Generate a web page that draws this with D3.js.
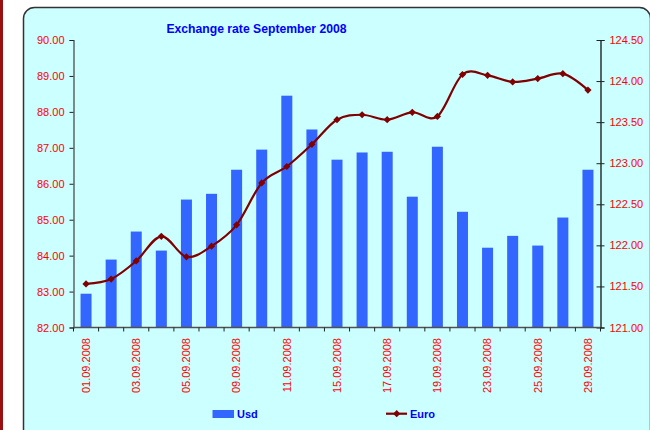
<!DOCTYPE html>
<html>
<head>
<meta charset="utf-8">
<script src="https://cdn.jsdelivr.net/npm/d3@7"></script>
<style>
  html, body { margin: 0; padding: 0; background: #fff; }
  svg { display: block; font-family: "Liberation Sans", Arial, sans-serif; }
</style>
</head>
<body>
<div id="container"></div>
<script>
const dates = [
  "01.09.2008", "02.09.2008", "03.09.2008", "04.09.2008", "05.09.2008",
  "06.09.2008", "09.09.2008", "10.09.2008", "11.09.2008", "12.09.2008",
  "15.09.2008", "16.09.2008", "17.09.2008", "18.09.2008", "19.09.2008",
  "20.09.2008", "23.09.2008", "24.09.2008", "25.09.2008", "26.09.2008",
  "29.09.2008"
]

const usd = [
  82.94, 83.89, 84.67, 84.14, 85.56, 85.72, 86.39, 86.95, 88.45, 87.51,
  86.67, 86.87, 86.89, 85.64, 87.03, 85.22, 84.22, 84.55, 84.28, 85.06,
  86.39
]

const euro = [
  121.53, 121.59, 121.81, 122.11, 121.86, 121.99, 122.25, 122.76, 122.96, 123.23,
  123.53, 123.59, 123.53, 123.62, 123.57, 124.08, 124.07, 123.99, 124.03, 124.09,
  123.89
]

const usdTicks = [82, 83, 84, 85, 86, 87, 88, 89, 90]
const euroTicks = [121, 121.5, 122, 122.5, 123, 123.5, 124, 124.5]

const width = 650
const height = 430
const margins = { top: 40, bottom: 102.5, left: 73.5, right: 49.5 }

const red = "#ff0000"
const blue = "#0000ff"
const barColor = "#3366ff"
const lineColor = "#800000"

const xScale = d3.scaleBand(dates, [margins.left, width - margins.right])
const yLeft = d3.scaleLinear([82, 90], [height - margins.bottom, margins.top])
const yRight = d3.scaleLinear([121, 124.5], [height - margins.bottom, margins.top])
const fmt = d3.format(".2f")

const svg = d3.select('#container')
  .append('svg')
  .attr('width', width)
  .attr('height', height)
  .attr('viewBox', [0, 0, width, height])

// page frame
svg.append('rect')
  .attr('x', 0).attr('y', 0).attr('width', 3).attr('height', height)
  .attr('fill', '#9a1010')

svg.append('rect')
  .attr('x', 23.5).attr('y', 7.5)
  .attr('width', 627).attr('height', 440)
  .attr('rx', 11)
  .attr('fill', '#ccffff')
  .attr('stroke', '#333')
  .attr('stroke-width', 1.5)

// title
svg.append('text')
  .attr('x', 256.5)
  .attr('y', 33)
  .attr('text-anchor', 'middle')
  .attr('font-size', 12.2)
  .attr('font-weight', 'bold')
  .attr('fill', blue)
  .text('Exchange rate September 2008')

// bars
const barW = 11
svg.append('g')
  .selectAll('rect')
  .data(dates)
  .join('rect')
  .attr('x', d => xScale(d) + xScale.bandwidth() / 2 - barW / 2)
  .attr('width', barW)
  .attr('y', (d, i) => yLeft(usd[i]))
  .attr('height', (d, i) => yLeft(82) - yLeft(usd[i]))
  .attr('fill', barColor)

// left axis
svg.append('g')
  .attr('transform', `translate(${margins.left},0)`)
  .call(d3.axisLeft(yLeft).tickValues(usdTicks).tickFormat(fmt).tickSize(4).tickPadding(5))
  .call(g => g.select('.domain').attr('stroke', '#404040').attr('stroke-width', 1.2))
  .call(g => g.selectAll('.tick line').attr('stroke', '#222'))
  .call(g => g.selectAll('.tick text').attr('fill', red).attr('font-size', 11).attr('font-family', null))

// right axis
svg.append('g')
  .attr('transform', `translate(${width - margins.right},0)`)
  .call(d3.axisRight(yRight).tickValues(euroTicks).tickFormat(fmt).tickSize(4).tickPadding(5))
  .call(g => g.select('.domain').attr('stroke', '#000').attr('stroke-width', 1.2))
  .call(g => g.selectAll('.tick line').attr('x1', -4).attr('stroke', '#222'))
  .call(g => g.selectAll('.tick text').attr('fill', red).attr('font-size', 11).attr('font-family', null))

// bottom axis: ticks on category boundaries, labels on every other date
const xAxisG = svg.append('g')
  .attr('transform', `translate(0,${height - margins.bottom})`)

xAxisG.append('line')
  .attr('x1', margins.left).attr('x2', width - margins.right)
  .attr('stroke', '#505050').attr('stroke-width', 1.5)

xAxisG.selectAll('line.tk')
  .data(dates.concat(['end']))
  .join('line')
  .attr('class', 'tk')
  .attr('x1', (d, i) => i < dates.length ? xScale(d) : width - margins.right)
  .attr('x2', (d, i) => i < dates.length ? xScale(d) : width - margins.right)
  .attr('y1', 0).attr('y2', 4)
  .attr('stroke', '#222')

xAxisG.selectAll('text')
  .data(dates.filter((d, i) => i % 2 === 0))
  .join('text')
  .attr('transform', d => `translate(${xScale(d) + xScale.bandwidth() / 2},10.5) rotate(-90)`)
  .attr('dy', '0.35em')
  .attr('text-anchor', 'end')
  .attr('font-size', 11)
  .attr('fill', red)
  .text(d => d)

// euro line
const line = d3.line()
  .x((d, i) => xScale(dates[i]) + xScale.bandwidth() / 2)
  .y(d => yRight(d))
  .curve(d3.curveCardinal.tension(0))

svg.append('path')
  .datum(euro)
  .attr('d', line)
  .attr('fill', 'none')
  .attr('stroke', lineColor)
  .attr('stroke-width', 2.2)

const diamond = d3.symbol(d3.symbolSquare, 26)

svg.append('g')
  .selectAll('path')
  .data(euro)
  .join('path')
  .attr('transform', (d, i) => `translate(${xScale(dates[i]) + xScale.bandwidth() / 2},${yRight(d)}) rotate(45)`)
  .attr('d', diamond)
  .attr('fill', lineColor)

// legend
const legend = svg.append('g')
legend.append('rect')
  .attr('x', 212.5).attr('y', 410).attr('width', 21.5).attr('height', 8)
  .attr('fill', barColor)
legend.append('text')
  .attr('x', 237).attr('y', 418)
  .attr('font-size', 11).attr('font-weight', 'bold').attr('fill', blue)
  .text('Usd')

legend.append('line')
  .attr('x1', 386).attr('x2', 407).attr('y1', 413.7).attr('y2', 413.7)
  .attr('stroke', lineColor).attr('stroke-width', 2.2)
legend.append('path')
  .attr('transform', 'translate(396.7,413.7) rotate(45)')
  .attr('d', diamond)
  .attr('fill', lineColor)
legend.append('text')
  .attr('x', 410).attr('y', 418)
  .attr('font-size', 11).attr('font-weight', 'bold').attr('fill', blue)
  .text('Euro')
</script>
</body>
</html>
